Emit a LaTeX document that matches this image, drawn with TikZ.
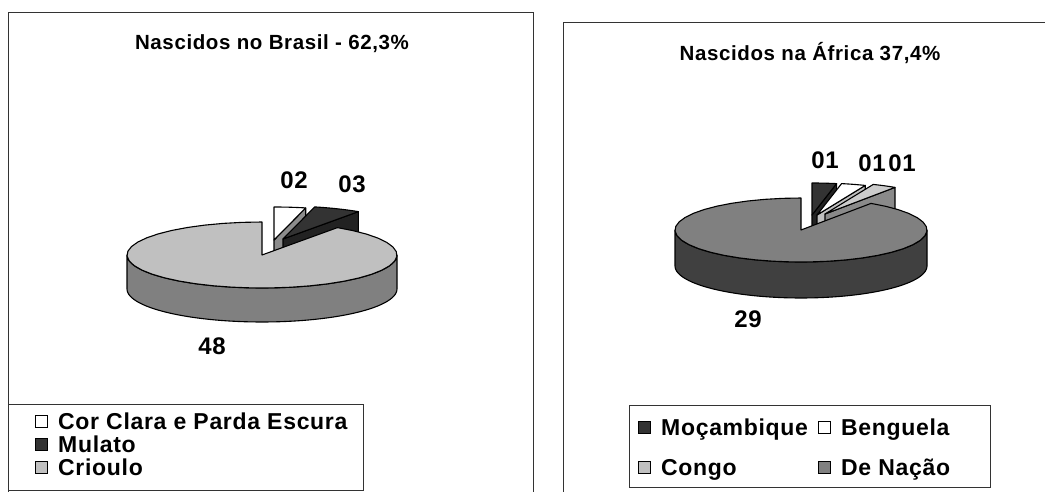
\documentclass[tikz,border=0pt]{standalone}
\usepackage{fontspec}
\setmainfont{Liberation Sans}[LetterSpace=3]
\newcommand\pieTop[7]{% cx cy a b ts te fill
  \filldraw[ln, fill=#7] (#1,#2) -- plot[domain=#5:#6, samples=40, variable=\t] ({#1+#3*sin(\t)},{#2-#4*cos(\t)}) -- cycle;}
\newcommand\pieWall[7]{% cx cy a b theta depth fill
  \filldraw[ln, fill=#7] (#1,#2) -- ({#1+#3*sin(#5)},{#2-#4*cos(#5)}) -- ({#1+#3*sin(#5)},{#2-#4*cos(#5)+#6}) -- (#1,{#2+#6}) -- cycle;}
\newcommand\pieSide[6]{% cx cy a b depth fill
  \filldraw[ln, fill=#6] plot[domain=90:270, samples=60, variable=\t] ({#1+#3*sin(\t)},{#2-#4*cos(\t)}) -- plot[domain=270:90, samples=60, variable=\t] ({#1+#3*sin(\t)},{#2-#4*cos(\t)+#5}) -- cycle;}
\definecolor{cWhiteWall}{HTML}{8C8C8C}
\definecolor{cDark}{HTML}{333333}
\definecolor{cDarkWall}{HTML}{222222}
\definecolor{cLight}{HTML}{C0C0C0}
\definecolor{cLightWall}{HTML}{808080}
\definecolor{cMid}{HTML}{808080}
\definecolor{cMidWall}{HTML}{404040}
\definecolor{cCongo}{HTML}{CCCCCC}
\definecolor{cBengWall}{HTML}{BFBFBF}
\definecolor{cCongoWall}{HTML}{8A8A8A}
\begin{document}
\begin{tikzpicture}[x=1pt,y=-1pt,
  ln/.style={draw=black, line width=1.1pt, line join=round},
  ttl/.style={font=\fontsize{20.5}{23}\selectfont\bfseries, inner sep=0, anchor=base},
  lab/.style={font=\fontsize{24}{26}\selectfont\bfseries, inner sep=0, anchor=base},
  leg/.style={font=\fontsize{23}{25}\selectfont\bfseries, inner sep=0, anchor=base west},
  sq/.style={draw=black, line width=0.8pt, minimum size=12pt, inner sep=0},
  frame/.style={draw=black!80, line width=1pt}]
\useasboundingbox (0,0) rectangle (1045,492);
\begin{scope}
\clip (0,0) rectangle (1045,492);
\draw[frame] (8,600) -- (8,13) -- (533,13) -- (533,600);
\draw[frame] (563,600) -- (563,23) -- (1100,23);
\end{scope}
% titles
\node[ttl] (t1) at (272,50) {Nascidos no Brasil - 62,3\%};
\node[ttl] (t2) at (810,61) {Nascidos na África 37,4\%};
% left pie
\pieWall{274}{240}{135}{33}{13.585}{34}{cWhiteWall}
\pieTop{274}{240}{135}{33}{0}{13.585}{white}
\pieWall{283}{239}{135}{33}{33.96}{34}{cDarkWall}
\pieTop{283}{239}{135}{33}{13.585}{33.96}{cDark}
\pieSide{262}{255}{135}{33}{34}{cLightWall}
\pieTop{262}{255}{135}{33}{33.96}{360}{cLight}
\node[lab] (l02) at (294,189) {02};
\node[lab] (l03) at (352,193) {03};
\node[lab] (l48) at (212,354) {48};
% right pie
\pieWall{812}{215}{126}{32}{11.25}{36}{cDarkWall}
\pieTop{812}{215}{126}{32}{0}{11.25}{cDark}
\pieWall{817}{215}{126}{32}{22.5}{36}{cBengWall}
\pieTop{817}{215}{126}{32}{11.25}{22.5}{white}
\pieWall{825}{214}{126}{32}{33.75}{36}{cCongoWall}
\pieTop{825}{214}{126}{32}{22.5}{33.75}{cCongo}
\pieSide{801}{230}{126}{32}{36}{cMidWall}
\pieTop{801}{230}{126}{32}{33.75}{360}{cMid}
\node[lab] (r01a) at (825,169) {01};
\node[lab] (r01b) at (872,172) {01};
\node[lab] (r01c) at (902,172) {01};
\node[lab] (r29) at (748,327) {29};
% left legend
\draw[frame] (8,404) rectangle (363,490);
\node[sq, fill=white] (s1) at (41,421) {};
\node[leg] (g1) at (58,429) {Cor Clara e Parda Escura};
\node[sq, fill=cDark] (s2) at (41,444) {};
\node[leg] (g2) at (58,452) {Mulato};
\node[sq, fill=cLight] (s3) at (41,467) {};
\node[leg] (g3) at (58,475) {Crioulo};
% right legend
\draw[frame] (629,405) rectangle (990,487);
\node[sq, fill=cDark] (s4) at (644,427) {};
\node[leg] (g4) at (661,435) {Moçambique};
\node[sq, fill=white] (s5) at (824,427) {};
\node[leg] (g5) at (841,435) {Benguela};
\node[sq, fill=cLight] (s6) at (644,467) {};
\node[leg] (g6) at (661,475) {Congo};
\node[sq, fill=cMid] (s7) at (824,467) {};
\node[leg] (g7) at (841,475) {De Nação};
\end{tikzpicture}
\end{document}
